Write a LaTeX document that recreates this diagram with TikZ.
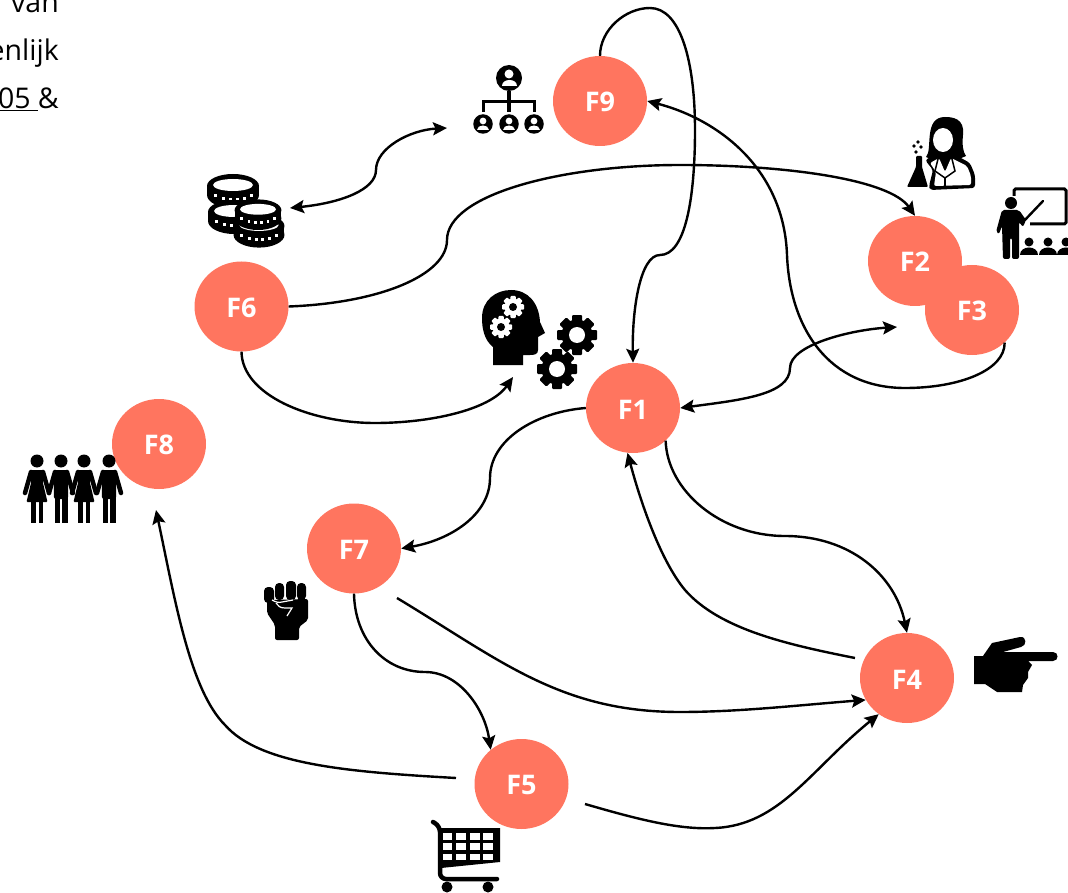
\documentclass[tikz,border=0pt]{standalone}
\usepackage{fontspec}
\setmainfont{Open Sans}
\usetikzlibrary{shapes.geometric,arrows.meta,positioning}

\definecolor{factorfill}{HTML}{FF755F}

\tikzset{
    gear/.pic={
        \fill (0,0) circle (15.5);
        \foreach \a in {0,45,...,135}
            \fill[rotate=\a,rounded corners=1pt] (-5,-20) rectangle (5,20);
    },
    head person/.pic={
        \fill (0,0) circle (13);
        \fill[white] (0,-4) circle (4.5);
        \fill[white] (-7.5,8) .. controls (-7.5,0) and (7.5,0) .. (7.5,8) -- cycle;
    },
    man/.pic={
        \fill (0,0) circle (6.5);
        \fill[rounded corners=2pt] (-7.5,9) -- (7.5,9) -- (7,38) -- (-7,38) -- cycle;
        \fill (-6.5,36) rectangle (-1,62);
        \fill (1,36) rectangle (6.5,62);
        \draw[line width=4.5pt,line cap=round] (-6,11) -- (-12,32);
        \draw[line width=4.5pt,line cap=round] (6,11) -- (12,32);
    },
    woman/.pic={
        \fill (0,0) circle (6.5);
        \fill[rounded corners=1pt] (-6.5,9) -- (6.5,9) -- (6,22) -- (10.5,41) -- (-10.5,41) -- (-6,22) -- cycle;
        \fill (-6,41) rectangle (-1.5,62);
        \fill (1.5,41) rectangle (6,62);
        \draw[line width=4.5pt,line cap=round] (-6,11) -- (-12,32);
        \draw[line width=4.5pt,line cap=round] (6,11) -- (12,32);
    },
    coin/.pic={
        \fill (0,7) ellipse [x radius=26, y radius=13];
        \fill (-26,-2) rectangle (26,7);
        \fill (0,-2) ellipse [x radius=26, y radius=12];
        \fill[white] (0,-3) ellipse [x radius=20, y radius=6];
        \foreach \x/\y in {-18/6,-10/9,-3/10,4/10,11/9,18/6}
            \fill[white] (\x-1.5,\y) rectangle (\x+1.5,\y+3);
    }
}

\begin{document}
\begin{tikzpicture}[
    x=1pt,
    y=-1pt,
    >={Stealth[length=14pt,width=13pt,inset=2.5pt]},
    factor node/.style={ellipse,fill=factorfill,text=white,inner sep=0pt,minimum width=94pt,minimum height=90pt,text height=22pt,font=\fontsize{27}{30}\selectfont\bfseries},
    page text/.style={anchor=base east,inner sep=0pt,font=\fontsize{28.5}{32}\selectfont},
    link/.style={line width=2.4pt,black}
]
\useasboundingbox (0,0) rectangle (1068,893);

% Text at the page edge
\node[page text] (line1) at (59,13) {van};
\node[page text] (line2) at (59,61) {enlijk};
\node[page text] (line3) at (59,109) {\underline{05~}\&};

% Factors
\node[factor node] (F9) at (600,101) {F9};
\node[factor node] (F6) at (241.5,306.5) {F6};
\node[factor node] (F2) at (915,261) {F2};
\node[factor node] (F3) at (972,310) {F3};
\node[factor node] (F1) at (633,408) {F1};
\node[factor node] (F8) at (159,444) {F8};
\node[factor node] (F7) at (354,548.5) {F7};
\node[factor node] (F4) at (907,678) {F4};
\node[factor node] (F5) at (521.5,784) {F5};

% Free arrow ends
\coordinate (coins end) at (290,208);
\coordinate (org end) at (447,128);
\coordinate (head end) at (513,377);
\coordinate (F3 end) at (897,327);
\coordinate (F4 start) at (855,658);
\coordinate (F7 start) at (397,598);
\coordinate (F5 west) at (456,778);
\coordinate (F5 east) at (585,804);
\coordinate (F8 end) at (156,510);

% Arrows
\draw[link,->] (F9.north) .. controls (600,30) and (625,8) .. (650,8) .. controls (680,8) and (695,60) .. (695,130) .. controls (695,200) and (685,255) .. (660,255) .. controls (640,255) and (632,310) .. (F1.north);
\draw[link,->] (F3.-45) .. controls (1005,370) and (960,388) .. (905,388) .. controls (830,388) and (790,330) .. (787,255) .. controls (784,170) and (720,120) .. (F9.east);
\draw[link,<->] (F1.east) .. controls (740,400) and (790,395) .. (790,368) .. controls (790,345) and (850,330) .. (F3 end);
\draw[link,->] (F6.east) .. controls (380,303) and (447,275) .. (447,240) .. controls (447,195) and (560,165) .. (680,165) .. controls (790,165) and (890,180) .. (F2.north);
\draw[link,<->] (coins end) .. controls (340,203) and (376,190) .. (376,170) .. controls (376,148) and (410,130) .. (org end);
\draw[link,->] (F6.south) .. controls (242,395) and (310,423) .. (375,423) .. controls (430,423) and (490,410) .. (head end);
\draw[link,->] (F1.west) .. controls (535,412) and (490,440) .. (490,478) .. controls (490,515) and (450,540) .. (F7.east);
\draw[link,->] (F1.-45) .. controls (667,490) and (720,536) .. (785,536) .. controls (850,536) and (895,575) .. (F4.north);
\draw[link,->] (F4 start) .. controls (790,645) and (720,630) .. (685,590) .. controls (660,560) and (640,500) .. (F1.263);
\draw[link,->] (F7 start) .. controls (500,660) and (560,712) .. (680,712) .. controls (740,712) and (800,705) .. (F4.208);
\draw[link,->] (F7.south) .. controls (355,640) and (385,672) .. (425,672) .. controls (460,672) and (485,710) .. (F5.132);
\draw[link,->] (F5 west) .. controls (350,772) and (260,765) .. (225,725) .. controls (190,690) and (175,600) .. (F8 end);
\draw[link,->] (F5 east) .. controls (640,820) and (680,830) .. (715,828) .. controls (780,825) and (810,770) .. (F4.232);

% Coins
\pic at (233,188) {coin};
\pic at (234,214) {coin};
\pic at (259,228) [scale=0.98] {coin};
\pic at (258,212) [scale=0.9] {coin};

% Organisation
\pic at (509,78) {head person};
\pic at (483,124) [scale=0.75] {head person};
\pic at (509,124) [scale=0.75] {head person};
\pic at (534,124) [scale=0.75] {head person};
\draw[line width=3.5pt] (509,91) -- (509,112);
\draw[line width=3pt] (483,112) -- (483,102) -- (534,102) -- (534,112);

% Scientist
\fill (926,157) .. controls (933,150) and (923,117) .. (945,117) .. controls (952,117) and (965,118) .. (963,135) .. controls (962,145) and (963,152) .. (966,156) -- (945,165) -- cycle;
\fill[white] (943,140) ellipse [x radius=10, y radius=12];
\fill[rounded corners=3pt] (925,160) -- (938,153) -- (952,153) -- (970,163) -- (975,175) -- (975,188) -- (930,190) -- (929,186) -- (933,170) -- cycle;
\fill[white,rounded corners=2pt] (930,163) -- (939,158) -- (945,172) -- (951,158) -- (967,166) -- (971,176) -- (971,185) -- (934,186) -- (936,172) -- cycle;
\draw[line width=1.5pt] (939,155) -- (935,171) -- (945,178) -- (955,171) -- (951,155);
\draw[line width=1.5pt] (945,178) -- (945,186);
\fill[rounded corners=1pt] (916,156) -- (922,156) -- (922,167) -- (928,187) -- (907,187) -- (916,167) -- cycle;
\foreach \x/\y in {918/142,914/146,921/147,916/152}
    \fill (\x,\y) circle (1.8);

% Teacher
\draw[line width=3pt,rounded corners=1.5pt] (1014,196) -- (1014,189) -- (1066,189) -- (1066,224) -- (1030,224);
\fill (1011,203) circle (6);
\fill[rounded corners=2pt] (1002,210) -- (1019,210) -- (1026,220) -- (1023,227) -- (1019,222) -- (1019,259) -- (1012,259) -- (1012,238) -- (1010,238) -- (1010,259) -- (1003,259) -- (1002,226) -- (999,234) -- (996,232) -- cycle;
\draw[line width=2.4pt,line cap=round] (1023,222) -- (1043,201);
\foreach \x in {1029,1048,1066} {
    \fill (\x,242) circle (4.5);
    \fill (\x-9,255) .. controls (\x-9,245) and (\x+9,245) .. (\x+9,255) -- cycle;
}

% Head with gears
\fill (493,365) -- (493,347) .. controls (484,340) and (482,328) .. (482,318) .. controls (482,300) and (496,290) .. (511,290) .. controls (528,290) and (539,303) .. (540,322) -- (545,333) -- (538,337) -- (538,350) .. controls (538,354) and (535,355) .. (530,355) -- (523,355) -- (523,365) -- cycle;
\pic[white] at (513,307) [scale=0.55] {gear};
\fill[black] (513,307) circle (4);
\pic[white] at (501,327) [scale=0.55] {gear};
\fill[black] (501,327) circle (4);
\pic at (577,335) {gear};
\fill[white] (577,335) circle (8);
\pic at (557,369) {gear};
\fill[white] (557,369) circle (8);

% People
\pic at (37,461) {woman};
\pic at (61,461) {man};
\pic at (84,461) {woman};
\pic at (109,461) {man};

% Fist
\foreach \xa/\xb/\ya/\yb in {264/274/587/603,275/284/583/600,286/296/581/600,297/306/583/600}
    \fill[rounded corners=4pt] (\xa,\ya) rectangle (\xb,\yb);
\fill[rounded corners=2pt] (267,600) -- (308,599) -- (308,620) -- (299,627) -- (299,640) -- (275,640) -- (275,625) -- (267,613) -- cycle;
\draw[white,line width=1.2pt] (272,600) .. controls (276,602) and (278,603) .. (282,602) -- (293,600);
\draw[white,line width=1.2pt] (276,603) .. controls (278,606) and (280,608) .. (285,608) -- (292,608) -- (287,616);

% Pointing hand
\fill (974,656) -- (983,656) -- (992,643) -- (1020,637) .. controls (1027,636) and (1027,646) .. (1021,647) -- (1003,652) -- (1053,652) .. controls (1059,652) and (1059,661) .. (1053,661) -- (1028,661) -- (1032,665) -- (1028,672) -- (1028,678) -- (1023,685) -- (1022,692) -- (997,692) -- (985,684) -- (974,684) -- cycle;

% Cart
\draw[line width=4.5pt,line cap=round,rounded corners=6pt] (433,822) -- (440,826) -- (440,879) -- (497,879);
\fill (441,828) -- (500,828) -- (500,862) -- (441,868) -- cycle;
\foreach \xa/\xb in {443/452,456/466,470/480,483/493} {
    \fill[white] (\xa,833) rectangle (\xb,840);
    \fill[white] (\xa,843) rectangle (\xb,850);
    \fill[white] (\xa,854) rectangle (\xb,860);
}
\fill (447,887) circle (5.5);
\fill (488,887) circle (5.5);

\end{tikzpicture}
\end{document}
